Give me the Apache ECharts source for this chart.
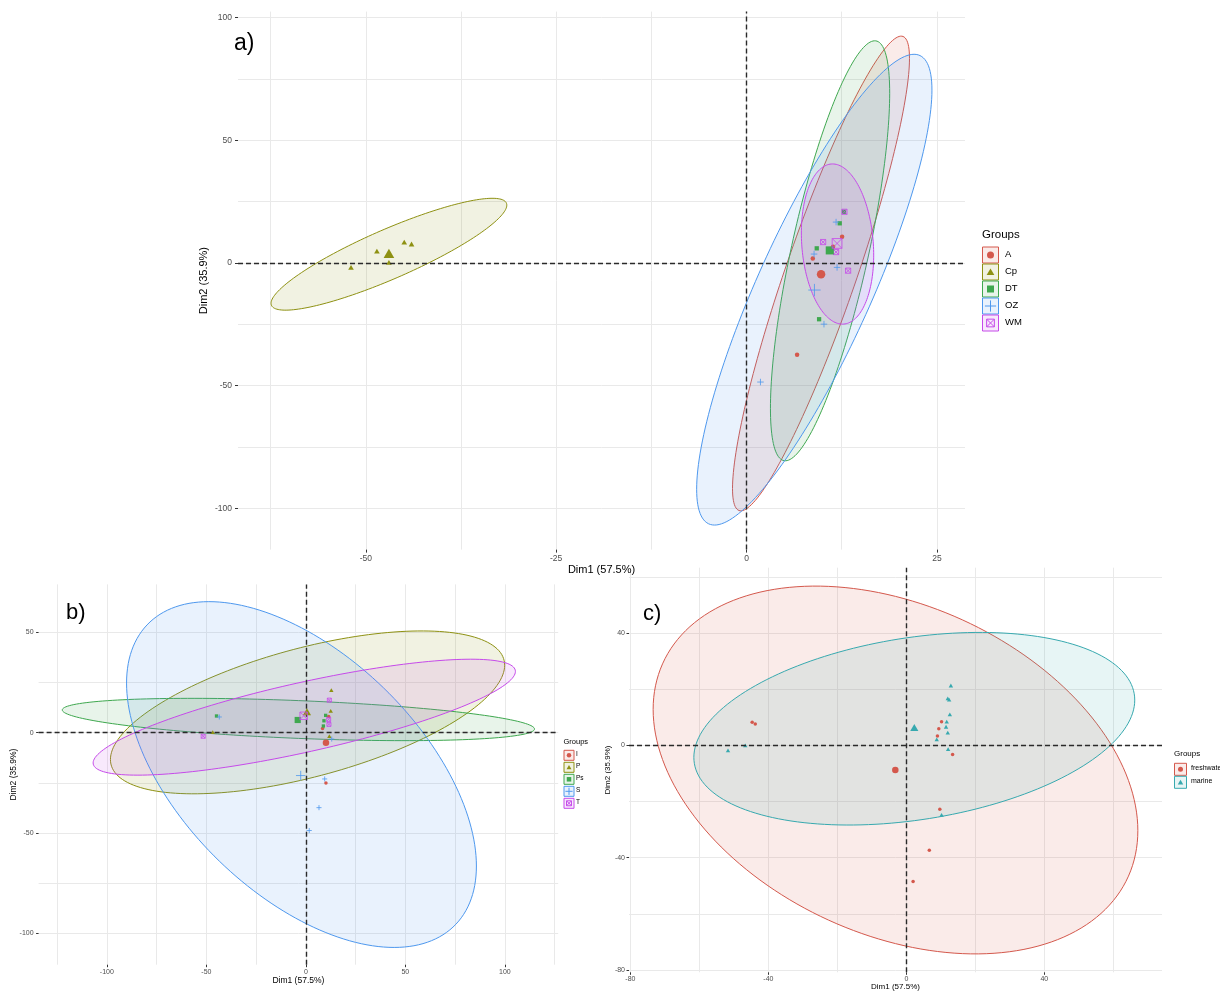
<!DOCTYPE html>
<html><head><meta charset="utf-8">
<script src="https://cdn.jsdelivr.net/npm/echarts@6/dist/echarts.min.js"></script>
<style>html,body{margin:0;padding:0;background:#fff}#c{width:1220px;height:991px}</style>
</head><body><div id="c"></div>
<script>
// ================= DATA =================
// ---- Panel a) ----
const aGroups = ['A', 'Cp', 'DT', 'OZ', 'WM'];
const aPtsA  = [[12.55, 10.7], [11.36, 6.66], [8.7, 1.9], [6.64, -37.4]];
const aPtsCp = [[-51.94, -1.77], [-48.54, 4.89], [-46.96, 0.27], [-44.95, 8.56], [-43.99, 7.75]];
const aPtsDT = [[12.8, 20.9], [12.24, 16.2], [9.22, 6.0], [9.53, -22.9]];
const aPtsOZ = [[11.76, 16.7], [8.87, 3.67], [11.89, -1.77], [10.17, -24.9], [1.83, -48.5]];
const aPtsWM = [[12.86, 20.9], [10.06, 8.56], [11.76, 4.48], [13.34, -3.1]];
const aCentroids = [[9.79, -4.6], [-46.96, 3.94], [10.93, 5.16], [8.92, -11.0], [11.89, 8.0]];
// ellipse: [centre x, centre y, half width, half height, y offset of rightmost point]
const aEllipses = [
  [9.78, -4.25, 11.62, 96.75, 87.65],
  [-46.96, 3.6, 15.48, 22.8, 20.0],
  [10.97, 5.0, 7.83, 85.6, 64.2],
  [8.9, -10.85, 15.45, 95.95, 81.35],
  [11.95, 7.75, 4.75, 32.65, -4.5]
];
const aXRange = [-66.78, 28.69], aYRange = [-116.8, 102.5];
const aXTicks = [-50, -25, 0, 25], aYTicks = [-100, -50, 0, 50, 100];
const aXGrid = [-62.5, -50, -37.5, -25, -12.5, 0, 12.5, 25];
const aYGrid = [-100, -75, -50, -25, 0, 25, 50, 75, 100];

// ---- Panel b) ----
const bGroups = ['I', 'P', 'Ps', 'S', 'T'];
const bPtsI  = [[11.45, 8.1], [8.4, 2.0], [10.1, -25.1]];
const bPtsP  = [[12.8, 21.2], [12.5, 10.9], [11.8, -1.7], [-46.8, 0.3]];
const bPtsPs = [[9.95, 8.6], [9.1, 5.9], [8.8, 3.3], [-44.9, 8.3]];
const bPtsS  = [[13.0, -3.2], [9.45, -23.1], [6.6, -37.4], [1.7, -48.8], [-43.5, 7.8]];
const bPtsT  = [[11.8, 16.2], [11.45, 6.6], [11.6, 4.1], [-51.6, -1.8]];
const bCentroids = [[10.1, -5.0], [0.55, 10.4], [-4.1, 6.3], [-2.6, -21.4], [-1.1, 8.4]];
const bEllipses = [
  null,
  [0.85, 10.1, 99.05, 40.6, 23.5],
  [-3.75, 6.55, 118.65, 10.55, -4.75],
  [-2.2, -20.9, 87.9, 86.2, -45.6],
  [-0.8, 7.7, 106.1, 28.9, 22.8]
];
const bXRange = [-134.3, 126.8], bYRange = [-115.7, 73.9];
const bXTicks = [-100, -50, 0, 50, 100], bYTicks = [-100, -50, 0, 50];
const bXGrid = [-125, -100, -75, -50, -25, 0, 25, 50, 75, 100, 125];
const bYGrid = [-100, -75, -50, -25, 0, 25, 50];

// ---- Panel c) ----
const cGroups = ['freshwater', 'marine'];
const cPtsFresh = [[10.2, 8.4], [9.4, 5.9], [9.0, 3.3], [13.4, -3.3], [9.7, -22.8], [6.65, -37.4], [1.95, -48.5], [-44.7, 8.2], [-43.8, 7.6]];
const cPtsMarine = [[12.9, 21.3], [12.0, 16.7], [12.4, 16.3], [12.6, 11.0], [11.7, 8.4], [11.5, 6.6], [12.0, 4.5], [8.8, 2.1], [12.1, -1.4], [10.2, -24.8], [-51.7, -1.8], [-46.7, 0.0]];
const cCentroids = [[-3.2, -8.8], [2.3, 6.3]];
const cEllipses = [
  [-3.15, -8.8, 70.25, 65.5, -21.6],
  [2.3, 5.9, 63.9, 34.3, 10.2]
];
const cXRange = [-80.4, 74.1], cYRange = [-80.85, 63.25];
const cXTicks = [-80, -40, 0, 40], cYTicks = [-80, -40, 0, 40];
const cXGrid = [-80, -60, -40, -20, 0, 20, 40, 60];
const cYGrid = [-80, -60, -40, -20, 0, 20, 40, 60];

// ================= STYLE / BUILD =================
const FONT = '"Liberation Sans", Arial, Helvetica, sans-serif';
const COL5 = ['#D4584C', '#8E9112', '#3FA84F', '#4E98EE', '#C64AEA'];
const COL2 = ['#D4584C', '#37A9AF'];
const SHAPES5 = ['circle', 'triangle', 'square', 'plus', 'sqx'];
const SHAPES2 = ['circle', 'triangle'];
const ALPHA = 0.12;

function rgba(hex, a) {
  const n = parseInt(hex.slice(1), 16);
  return 'rgba(' + (n >> 16 & 255) + ',' + (n >> 8 & 255) + ',' + (n & 255) + ',' + a + ')';
}
function symbolFor(k) {
  return {circle: 'circle', triangle: 'triangle', square: 'rect',
    plus: 'path://M5,0L5,10M0,5L10,5', sqx: 'path://M0,0L10,0L10,10L0,10ZM0,0L10,10M10,0L0,10'}[k];
}
function styleFor(k, col) {
  return (k === 'plus' || k === 'sqx') ? {color: 'rgba(0,0,0,0)', borderColor: col, borderWidth: 1} : {color: col, opacity: 1};
}
function sizeFor(k, base) {
  if (k === 'triangle') return [base * 1.25, base * 1.08];
  if (k === 'plus') return base * 1.45;
  if (k === 'sqx') return base * 1.15;
  if (k === 'square') return base * 0.95;
  return base;
}

const grids = [
  {left: 238, top: 11.6, width: 727, height: 538, outerBoundsMode: 'none'},
  {left: 38.6, top: 584.4, width: 519.6, height: 380.3, outerBoundsMode: 'none'},
  {left: 629, top: 567.7, width: 533, height: 404.6, outerBoundsMode: 'none'}
];

const panelCfg = [
  {xr: aXRange, yr: aYRange, xt: aXTicks, yt: aYTicks, xg: aXGrid, yg: aYGrid, fs: 8.5, nfs: 11, xm: 5, ym: 6, tl: 3, xng: 15, yng: 28.5},
  {xr: bXRange, yr: bYRange, xt: bXTicks, yt: bYTicks, xg: bXGrid, yg: bYGrid, fs: 7, nfs: 8.5, xm: 3.5, ym: 5, tl: 2.5, xng: 11, yng: 20},
  {xr: cXRange, yr: cYRange, xt: cXTicks, yt: cYTicks, xg: cXGrid, yg: cYGrid, fs: 7, nfs: 8, xm: 3, ym: 4, tl: 2.5, xng: 10.5, yng: 17}
];

const xAxes = [], yAxes = [];
panelCfg.forEach((p, gi) => {
  xAxes.push({type: 'value', gridIndex: gi, min: p.xr[0], max: p.xr[1], position: 'bottom',
    name: 'Dim1 (57.5%)', nameLocation: 'middle', nameGap: p.xng, nameMoveOverlap: false,
    nameTextStyle: {fontSize: p.nfs, color: '#000', fontFamily: FONT},
    axisLine: {show: false, onZero: false},
    axisTick: {show: true, customValues: p.xt, length: p.tl, lineStyle: {color: '#333', width: 1}},
    axisLabel: {customValues: p.xt, fontSize: p.fs, color: '#4d4d4d', margin: p.xm, fontFamily: FONT, formatter: v => String(v)},
    splitLine: {show: false}});
  yAxes.push({type: 'value', gridIndex: gi, min: p.yr[0], max: p.yr[1], position: 'left',
    name: 'Dim2 (35.9%)', nameLocation: 'middle', nameGap: p.yng, nameMoveOverlap: false,
    nameTextStyle: {fontSize: p.nfs, color: '#000', fontFamily: FONT},
    axisLine: {show: false, onZero: false},
    axisTick: {show: true, customValues: p.yt, length: p.tl, lineStyle: {color: '#333', width: 1}},
    axisLabel: {customValues: p.yt, fontSize: p.fs, color: '#4d4d4d', margin: p.ym, fontFamily: FONT, formatter: v => String(v)},
    splitLine: {show: false}});
});
// gridline axes (majors + minors)
panelCfg.forEach((p, gi) => {
  xAxes.push({type: 'value', gridIndex: gi, min: p.xr[0], max: p.xr[1], position: 'top',
    axisLine: {show: false, onZero: false}, axisLabel: {show: false},
    axisTick: {show: false, customValues: p.xg},
    splitLine: {show: true, lineStyle: {color: '#e9e9e9', width: 1}}});
  yAxes.push({type: 'value', gridIndex: gi, min: p.yr[0], max: p.yr[1], position: 'right',
    axisLine: {show: false, onZero: false}, axisLabel: {show: false},
    axisTick: {show: false, customValues: p.yg},
    splitLine: {show: true, lineStyle: {color: '#e9e9e9', width: 1}}});
});

function ellipseSeries(gi, params, colors) {
  const data = [];
  params.forEach((p, i) => { if (p) data.push({value: p, colorIdx: i}); });
  const cols = data.map(d => colors[d.colorIdx]);
  return {
    type: 'custom', xAxisIndex: gi, yAxisIndex: gi, z: 2, silent: true, animation: false,
    data: data.map(d => d.value),
    renderItem: function (prm, api) {
      const cx = api.value(0), cy = api.value(1), hw = api.value(2), hh = api.value(3), ry = api.value(4);
      const d = Math.acos(Math.max(-1, Math.min(1, ry / hh)));
      const pts = [];
      const N = 180;
      for (let k = 0; k < N; k++) {
        const t = 2 * Math.PI * k / N;
        pts.push(api.coord([cx + hw * Math.cos(t), cy + hh * Math.cos(t - d)]));
      }
      const col = cols[prm.dataIndex];
      return {type: 'polygon', shape: {points: pts}, style: {fill: rgba(col, ALPHA), stroke: col, lineWidth: 1}};
    }
  };
}

const zeroLines = {
  silent: true, symbol: ['none', 'none'], animation: false,
  label: {show: false},
  lineStyle: {color: '#2a2a2a', type: [5, 3], width: 1.4},
  emphasis: {disabled: true},
  data: [{xAxis: 0}, {yAxis: 0}]
};

const series = [];
function addPanel(gi, sets, cents, ells, colors, shapes, smallBase, bigBase) {
  series.push(ellipseSeries(gi, ells, colors));
  sets.forEach((pts, i) => {
    const k = shapes[i];
    const s = {type: 'scatter', xAxisIndex: gi, yAxisIndex: gi, z: 4, silent: true, animation: false,
      symbol: symbolFor(k), symbolSize: sizeFor(k, smallBase), itemStyle: styleFor(k, colors[i]), data: pts};
    if (i === 0) s.markLine = zeroLines;
    series.push(s);
  });
  cents.forEach((c, i) => {
    const k = shapes[i];
    series.push({type: 'scatter', xAxisIndex: gi, yAxisIndex: gi, z: 5, silent: true, animation: false,
      symbol: symbolFor(k), symbolSize: sizeFor(k, bigBase), itemStyle: styleFor(k, colors[i]), data: [c]});
  });
}
addPanel(0, [aPtsA, aPtsCp, aPtsDT, aPtsOZ, aPtsWM], aCentroids, aEllipses, COL5, SHAPES5, 4.5, 8.5);
addPanel(1, [bPtsI, bPtsP, bPtsPs, bPtsS, bPtsT], bCentroids, bEllipses, COL5, SHAPES5, 3.5, 6.5);
addPanel(2, [cPtsFresh, cPtsMarine], cCentroids, cEllipses, COL2, SHAPES2, 3.5, 6.5);

// ---- legends (graphic) ----
function symG(k, cx, cy, s, col) {
  const h = s / 2;
  if (k === 'circle') return [{type: 'circle', shape: {cx: cx, cy: cy, r: h}, style: {fill: col}}];
  if (k === 'triangle') return [{type: 'polygon', shape: {points: [[cx, cy - h], [cx + h * 1.1, cy + h * 0.85], [cx - h * 1.1, cy + h * 0.85]]}, style: {fill: col}}];
  if (k === 'square') return [{type: 'rect', shape: {x: cx - h, y: cy - h, width: s, height: s}, style: {fill: col}}];
  if (k === 'plus') {
    const q = h * 1.6;
    return [{type: 'line', shape: {x1: cx - q, y1: cy, x2: cx + q, y2: cy}, style: {stroke: col, lineWidth: 1}},
            {type: 'line', shape: {x1: cx, y1: cy - q, x2: cx, y2: cy + q}, style: {stroke: col, lineWidth: 1}}];
  }
  const q = h * 1.1;
  return [{type: 'rect', shape: {x: cx - q, y: cy - q, width: 2 * q, height: 2 * q}, style: {fill: 'none', stroke: col, lineWidth: 1}},
          {type: 'line', shape: {x1: cx - q, y1: cy - q, x2: cx + q, y2: cy + q}, style: {stroke: col, lineWidth: 1}},
          {type: 'line', shape: {x1: cx + q, y1: cy - q, x2: cx - q, y2: cy + q}, style: {stroke: col, lineWidth: 1}}];
}
function legendG(names, colors, shapes, L) {
  const els = [{type: 'text', left: L.x, top: L.ty - L.tfs / 2 - 1, style: {text: 'Groups', fontSize: L.tfs, fill: '#000', fontFamily: FONT}}];
  names.forEach((n, i) => {
    const cy = L.y0 + i * L.step;
    els.push({type: 'rect', shape: {x: L.x + 0.5, y: cy - L.box / 2, width: L.box, height: L.box},
      style: {fill: rgba(colors[i], ALPHA), stroke: colors[i], lineWidth: 1}});
    symG(shapes[i], L.x + 0.5 + L.box / 2, cy, L.sym, colors[i]).forEach(e => els.push(e));
    els.push({type: 'text', left: L.lx, top: cy - L.lfs / 2 - 1, style: {text: n, fontSize: L.lfs, fill: '#000', fontFamily: FONT}});
  });
  return els;
}
let graphics = [];
graphics = graphics.concat(legendG(aGroups, COL5, SHAPES5, {x: 982, ty: 236, tfs: 11.5, y0: 255, step: 17, box: 16, sym: 7, lx: 1005, lfs: 9.5}));
graphics = graphics.concat(legendG(bGroups, COL5, SHAPES5, {x: 563.5, ty: 743, tfs: 7.5, y0: 755.3, step: 12, box: 10, sym: 4.5, lx: 576, lfs: 6.5}));
graphics = graphics.concat(legendG(cGroups, COL2, SHAPES2, {x: 1174, ty: 755, tfs: 8, y0: 769.3, step: 13, box: 12, sym: 5, lx: 1191, lfs: 7}));
graphics.push({type: 'text', left: 234, top: 32, style: {text: 'a)', fontSize: 23, fill: '#000', fontFamily: FONT}});
graphics.push({type: 'text', left: 66, top: 602, style: {text: 'b)', fontSize: 22, fill: '#000', fontFamily: FONT}});
graphics.push({type: 'text', left: 643, top: 603, style: {text: 'c)', fontSize: 22, fill: '#000', fontFamily: FONT}});

const chart = echarts.init(document.getElementById('c'), null, {renderer: 'canvas'});
chart.setOption({
  animation: false,
  backgroundColor: '#ffffff',
  textStyle: {fontFamily: FONT},
  grid: grids,
  xAxis: xAxes,
  yAxis: yAxes,
  series: series,
  graphic: {elements: graphics}
});
</script></body></html>
